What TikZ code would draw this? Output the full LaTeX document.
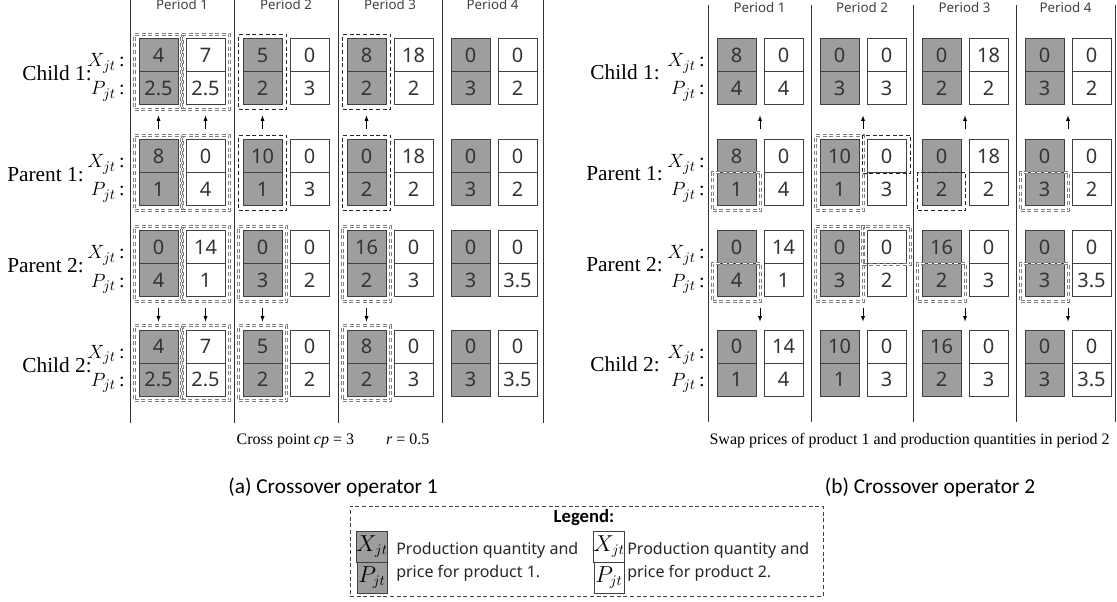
\documentclass[tikz,border=0pt]{standalone}
\usepackage{fontspec}
\setmainfont{Liberation Serif}
\newfontfamily\numfont{Noto Sans}
\newfontfamily\capfont{Carlito}
\usetikzlibrary{fit, calc}

\begin{document}
\begin{tikzpicture}[> = latex, x = 0.75pt, y = -0.75pt,
	gene/.style = {draw = black!75, line width = 0.75pt, fill = black!38, minimum width = 29.25pt, minimum height = 24.75pt, inner sep = 0pt, text = black!80, font = \numfont\fontsize{15}{15}\selectfont},
	pick/.style = {draw = black!85, densely dashed, line width = 0.5pt, inner sep = 3pt},
	twin/.style = {pick, draw = black!50, double = white, double distance = 0.75pt, line width = 0.4pt},
	lowhalf/.style = {inner ysep = 1.5pt, yshift = -1.5pt},
	highhalf/.style = {inner ysep = 1.5pt, yshift = 1.5pt},
	rowname/.style = {anchor = base east, inner sep = 0pt, font = \fontsize{16}{16}\selectfont},
	varname/.style = {anchor = base east, inner sep = 0pt, font = \fontsize{15}{15}\selectfont},
	periodname/.style = {anchor = base, inner sep = 0pt, text = black!75, font = \numfont\fontsize{10}{10}\selectfont},
	keycell/.style = {draw = black!75, line width = 0.6pt, fill = black!38, minimum width = 22.5pt, minimum height = 23.25pt, inner sep = 0pt, font = \fontsize{16}{16}\selectfont},
	legendtext/.style = {anchor = west, align = left, inner sep = 0pt, text = black!85, font = \numfont\fontsize{12}{17.25}\selectfont}]

\useasboundingbox (0, 0) rectangle (1117, 602);

% Period separators

\foreach \k in {130, 234, 338, 442, 543}
	\draw [line width = 0.6pt, black!80] (\k, 0) -- (\k, 423);
\foreach \k in {708, 811, 913, 1016, 1115}
	\draw [line width = 0.6pt, black!80] (\k, 5) -- (\k, 422);

\foreach \k [count = \i] in {182, 286, 390, 492.5}
	\node [periodname] (a-t\i) at (\k, 10) {Period \i};
\foreach \k [count = \i] in {759.5, 862, 964.5, 1065.5}
	\node [periodname] (b-t\i) at (\k, 13) {Period \i};

% Chromosomes, crossover operator 1

\foreach \r/\t/\genes in {
		c1/39/{130/4/2.5/7/2.5, 234/5/2/0/3, 338/8/2/18/2, 442/0/3/0/2},
		p1/140/{130/8/1/0/4, 234/10/1/0/3, 338/0/2/18/2, 442/0/3/0/2},
		p2/231/{130/0/4/14/1, 234/0/3/0/2, 338/16/2/0/3, 442/0/3/0/3.5},
		c2/330/{130/4/2.5/7/2.5, 234/5/2/0/2, 338/8/2/0/3, 442/0/3/0/3.5}}
	\foreach \k/\gx/\gp/\wx/\wp [count = \i] in \genes {
		\node [gene] (a-\r-\i-gx) at (\k + 28.5, \t + 16.5) {\gx};
		\node [gene] (a-\r-\i-gp) at (\k + 28.5, \t + 49.5) {\gp};
		\node [gene, fill = white] (a-\r-\i-wx) at (\k + 75.5, \t + 16.5) {\wx};
		\node [gene, fill = white] (a-\r-\i-wp) at (\k + 75.5, \t + 49.5) {\wp};
	}

\foreach \r/\t/\name/\e in {c1/39/Child 1/92, p1/140/Parent 1/84, p2/231/Parent 2/84, c2/330/Child 2/92} {
	\node [rowname] (a-\r-name) at (\e, \t + 42) {\name:};
	\node [varname] (a-\r-x) at (125, \t + 28) {$X_{jt}$\,:};
	\node [varname] (a-\r-p) at (125, \t + 56) {$P_{jt}$\,:};
}

% Exchanged genes

\foreach \r in {c1, p1, p2, c2} {
	\node [twin, fit = (a-\r-1-gx) (a-\r-1-gp)] (a-\r-1-gf) {};
	\node [twin, fit = (a-\r-1-wx) (a-\r-1-wp)] (a-\r-1-wf) {};
}
\foreach \r in {c1, p1}
	\foreach \j in {2, 3}
		\node [pick, fit = (a-\r-\j-gx) (a-\r-\j-gp)] (a-\r-\j-gf) {};
\foreach \r in {p2, c2}
	\foreach \j in {2, 3}
		\node [twin, fit = (a-\r-\j-gx) (a-\r-\j-gp)] (a-\r-\j-gf) {};

\foreach \j in {1, 2, 3} {
	\draw [->, shorten <= 7.5pt, shorten >= 7.5pt] (a-p1-\j-gx.north) -- (a-c1-\j-gp.south);
	\draw [->, shorten <= 7.5pt, shorten >= 6pt] (a-p2-\j-gp.south) -- (a-c2-\j-gx.north);
}
\draw [->, shorten <= 7.5pt, shorten >= 7.5pt] (a-p1-1-wx.north) -- (a-c1-1-wp.south);
\draw [->, shorten <= 7.5pt, shorten >= 6pt] (a-p2-1-wp.south) -- (a-c2-1-wx.north);

\node (a-note) at (333, 441) {\fontsize{12}{12}\selectfont Cross point \textit{cp} = 3\hspace{2em}\textit{r} = 0.5};
\node [font = \capfont\fontsize{16}{16}\selectfont] (a-title) at (333, 487) {(a) Crossover operator 1};

% Chromosomes, crossover operator 2

\foreach \r/\t/\genes in {
		c1/39/{708/8/4/0/4, 811/0/3/0/3, 913/0/2/18/2, 1016/0/3/0/2},
		p1/140/{708/8/1/0/4, 811/10/1/0/3, 913/0/2/18/2, 1016/0/3/0/2},
		p2/231/{708/0/4/14/1, 811/0/3/0/2, 913/16/2/0/3, 1016/0/3/0/3.5},
		c2/330/{708/0/1/14/4, 811/10/1/0/3, 913/16/2/0/3, 1016/0/3/0/3.5}}
	\foreach \k/\gx/\gp/\wx/\wp [count = \i] in \genes {
		\node [gene] (b-\r-\i-gx) at (\k + 28.5, \t + 16.5) {\gx};
		\node [gene] (b-\r-\i-gp) at (\k + 28.5, \t + 49.5) {\gp};
		\node [gene, fill = white] (b-\r-\i-wx) at (\k + 75.5, \t + 16.5) {\wx};
		\node [gene, fill = white] (b-\r-\i-wp) at (\k + 75.5, \t + 49.5) {\wp};
	}

\foreach \r/\t/\name/\e in {c1/39/Child 1/660, p1/140/Parent 1/663, p2/231/Parent 2/663, c2/330/Child 2/660} {
	\node [rowname] (b-\r-name) at (\e, \t + 41) {\name:};
	\node [varname] (b-\r-x) at (705, \t + 28) {$X_{jt}$\,:};
	\node [varname] (b-\r-p) at (705, \t + 56) {$P_{jt}$\,:};
}

% Swapped genes

\node [twin, lowhalf, fit = (b-p1-1-gp)] (b-p1-1-gf) {};
\node [twin, fit = (b-p1-2-gx) (b-p1-2-gp)] (b-p1-2-gf) {};
\node [pick, highhalf, fit = (b-p1-2-wx)] (b-p1-2-wf) {};
\node [pick, lowhalf, fit = (b-p1-3-gp)] (b-p1-3-gf) {};
\node [twin, lowhalf, fit = (b-p1-4-gp)] (b-p1-4-gf) {};

\node [twin, lowhalf, fit = (b-p2-1-gp)] (b-p2-1-gf) {};
\node [twin, fit = (b-p2-2-gx) (b-p2-2-gp)] (b-p2-2-gf) {};
\node [twin, highhalf, fit = (b-p2-2-wx)] (b-p2-2-wf) {};
\node [twin, lowhalf, fit = (b-p2-3-gp)] (b-p2-3-gf) {};
\node [twin, lowhalf, fit = (b-p2-4-gp)] (b-p2-4-gf) {};

\foreach \j in {1, ..., 4} {
	\draw [->, shorten <= 7.5pt, shorten >= 7.5pt] ($(b-p1-\j-gx.north)!0.5!(b-p1-\j-wx.north)$) -- ($(b-c1-\j-gp.south)!0.5!(b-c1-\j-wp.south)$);
	\draw [->, shorten <= 7.5pt, shorten >= 6pt] ($(b-p2-\j-gp.south)!0.5!(b-p2-\j-wp.south)$) -- ($(b-c2-\j-gx.north)!0.5!(b-c2-\j-wx.north)$);
}

\node (b-note) at (909.5, 441) {\fontsize{12}{12}\selectfont Swap prices of product 1 and production quantities in period 2};
\node [font = \capfont\fontsize{16}{16}\selectfont] (b-title) at (930, 487) {(b) Crossover operator 2};

% Legend

\node [draw = black!75, densely dashed, line width = 0.5pt, minimum width = 354.75pt, minimum height = 67.5pt] (legend) at (586.5, 551) {};
\node [font = \capfont\bfseries\fontsize{14}{14}\selectfont] (legend-title) at (584, 518) {Legend:};

\node [keycell] (k1-x) at (372, 546.5) {$X_{jt}$};
\node [keycell] (k1-p) at (372, 577.5) {$P_{jt}$};
\node [legendtext] (k1-text) at (396, 562) {Production quantity and\\price for product 1.};

\node [keycell, fill = white] (k2-x) at (609, 546.5) {$X_{jt}$};
\node [keycell, fill = white] (k2-p) at (609, 577.5) {$P_{jt}$};
\node [legendtext] (k2-text) at (627, 562) {Production quantity and\\price for product 2.};

\end{tikzpicture}
\end{document}
